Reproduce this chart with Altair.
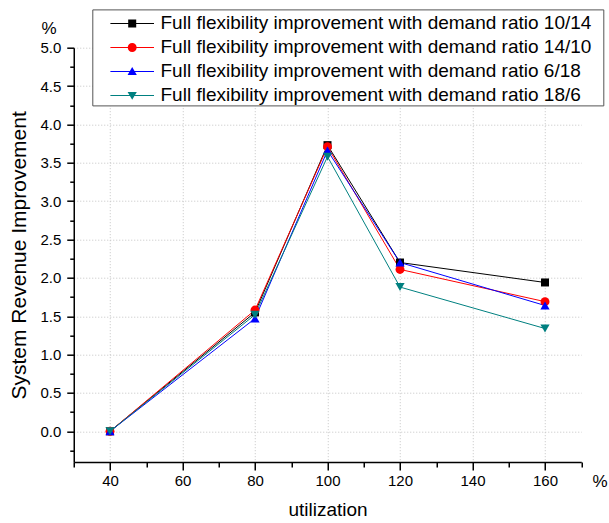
import altair as alt
import pandas as pd

# ---------------- data ----------------
utilization = [40, 80, 100, 120, 160]
series_names = [
    "Full flexibility improvement with demand ratio 10/14",
    "Full flexibility improvement with demand ratio 14/10",
    "Full flexibility improvement with demand ratio 6/18",
    "Full flexibility improvement with demand ratio 18/6",
]
ratio_10_14 = [0.00, 1.55, 3.73, 2.20, 1.94]
ratio_14_10 = [0.00, 1.58, 3.71, 2.11, 1.69]
ratio_6_18 = [0.00, 1.47, 3.66, 2.20, 1.64]
ratio_18_6 = [0.00, 1.52, 3.58, 1.88, 1.34]
series_values = [ratio_10_14, ratio_14_10, ratio_6_18, ratio_18_6]

x_tick_values = [30, 40, 50, 60, 70, 80, 90, 100, 110, 120, 130, 140, 150, 160, 170]
y_tick_values = [-0.25, 0.0, 0.25, 0.5, 0.75, 1.0, 1.25, 1.5, 1.75, 2.0, 2.25,
                 2.5, 2.75, 3.0, 3.25, 3.5, 3.75, 4.0, 4.25, 4.5, 4.75, 5.0]
unit_labels = ["%"]

# ---------------- styles ----------------
colors = ["#000000", "#ff0000", "#0000ff", "#008080"]
marker_shapes = ["square", "circle", "triangle-up", "triangle-down"]
marker_sizes = [64, 80, 85, 85]

# legend symbols: 14 px per path unit (symbolSize 784)
legend_line = "M-1.557,-0.036H1.557V0.036H-1.557Z"
legend_pad = "M33.65,0L33.65,0"
legend_paths = [
    legend_pad + legend_line + "M-0.286,-0.286H0.286V0.286H-0.286Z",
    legend_pad + legend_line + "M-0.32,0A0.32,0.32 0 1,1 0.32,0A0.32,0.32 0 1,1 -0.32,0Z",
    legend_pad + legend_line + "M0,-0.31L0.33,0.25L-0.33,0.25Z",
    legend_pad + legend_line + "M0,0.31L-0.33,-0.25L0.33,-0.25Z",
]

rows = []
for name, vals in zip(series_names, series_values):
    for u, v in zip(utilization, vals):
        rows.append({"series": name, "utilization": u, "value": v})
df = pd.DataFrame(rows)

W, H = 507.5, 414.3
FONT = "Liberation Sans"

x_major = "datum.value % 20 === 0"
y_major = "abs(datum.value * 2 - round(datum.value * 2)) < 0.001"

x_enc = alt.X(
    "utilization:Q",
    scale=alt.Scale(domain=[30, 170], nice=False, zero=False),
    axis=alt.Axis(
        values=x_tick_values,
        title="utilization",
        labelExpr=f"{x_major} ? datum.label : ''",
        tickSize={"condition": {"test": x_major, "value": 8}, "value": 5},
        gridOpacity={"condition": {"test": x_major, "value": 1}, "value": 0},
        grid=True,
        gridColor="#c4c4c4",
        gridDash=[1, 2],
        gridWidth=1,
        domainColor="black",
        domainWidth=1.5,
        tickColor="black",
        tickWidth=1.5,
        labelFont=FONT,
        labelFontSize=15,
        labelColor="black",
        labelPadding=3,
        labelFlush=False,
        labelOverlap=False,
        titleFont=FONT,
        titleFontSize=19,
        titleFontWeight="normal",
        titleColor="black",
        titleX=W / 2,
        titleY=47,
        titleAlign="center",
        titleBaseline="middle",
    ),
)
y_enc = alt.Y(
    "value:Q",
    scale=alt.Scale(domain=[-0.4, 5.0], nice=False, zero=False),
    axis=alt.Axis(
        values=y_tick_values,
        title="System Revenue Improvement",
        format=".1f",
        labelExpr=f"{y_major} ? format(datum.value, '.1f') : ''",
        tickSize={"condition": {"test": y_major, "value": 7}, "value": 4},
        gridOpacity={"condition": {"test": y_major, "value": 1}, "value": 0},
        grid=True,
        gridColor="#c4c4c4",
        gridDash=[1, 2],
        gridWidth=1,
        domainColor="black",
        domainWidth=1.5,
        tickColor="black",
        tickWidth=1.5,
        labelFont=FONT,
        labelFontSize=15,
        labelColor="black",
        labelPadding=6,
        labelFlush=False,
        labelOverlap=False,
        titleFont=FONT,
        titleFontSize=21,
        titleFontWeight="normal",
        titleColor="black",
        titleX=-54,
        titleY=H / 2,
        titleAngle=270,
        titleAlign="center",
        titleBaseline="middle",
    ),
)

base = alt.Chart(df)

series_layers = []
for name, col in zip(series_names, colors):
    sub = base.transform_filter(alt.datum.series == name)
    series_layers.append(
        sub.mark_line(strokeWidth=1, color=col).encode(x=x_enc, y=y_enc)
    )
for name, col, shp, sz in zip(series_names, colors, marker_shapes, marker_sizes):
    sub = base.transform_filter(alt.datum.series == name)
    series_layers.append(
        sub.mark_point(shape=shp, filled=True, size=sz, color=col, opacity=1)
        .encode(x=x_enc, y=y_enc)
    )

legend_def = alt.Legend(
    title=None,
    orient="none",
    legendX=18.55,
    legendY=-38.3,
    direction="vertical",
    symbolSize=784,
    symbolStrokeWidth=0,
    symbolOpacity=1,
    symbolOffset=25.9,
    labelFont=FONT,
    labelFontSize=19,
    labelColor="black",
    labelOffset=14.3,
    labelLimit=1000,
    padding=0,
    rowPadding=0,
    strokeColor="#555555",
    fillColor="white",
)

color_scale = alt.Scale(domain=series_names, range=colors)
legend_layer = base.mark_point(filled=True, opacity=0).encode(
    x=x_enc, y=y_enc,
    color=alt.Color("series:N", scale=color_scale, legend=legend_def, sort=series_names),
    shape=alt.Shape("series:N", scale=alt.Scale(domain=series_names, range=legend_paths),
                    legend=legend_def, sort=series_names),
)

units = pd.DataFrame({"u": unit_labels})
y_unit = alt.Chart(units).mark_text(font=FONT, fontSize=17, color="black").encode(
    x=alt.value(-24.75), y=alt.value(-18.7), text="u:N"
)
x_unit = alt.Chart(units).mark_text(font=FONT, fontSize=17, color="black").encode(
    x=alt.value(526.25), y=alt.value(434), text="u:N"
)

chart = alt.layer(*series_layers, legend_layer, y_unit, x_unit).properties(
    width=W,
    height=H,
    autosize=alt.AutoSizeParams(type="none"),
    padding={"left": 73.75, "top": 47.7, "right": 27.75, "bottom": 61},
    background="white",
).configure_view(stroke=None)

chart.save("out.html", embed_options={"renderer": "svg", "actions": False})
